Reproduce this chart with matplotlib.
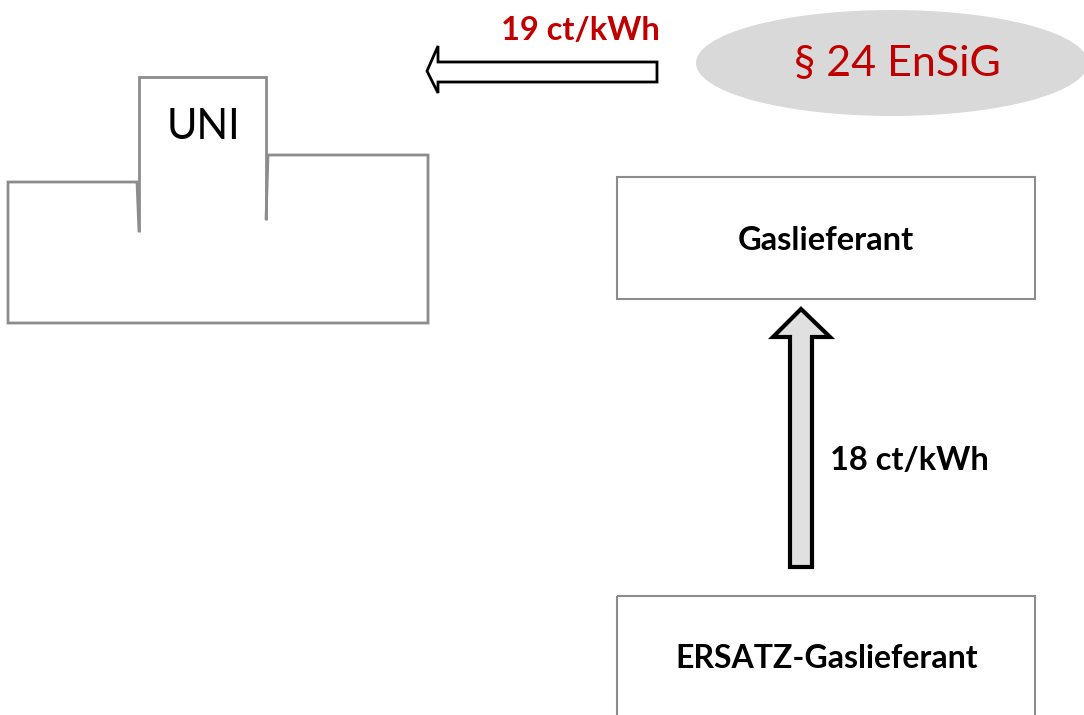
import matplotlib.pyplot as plt
from matplotlib.patches import Polygon, Rectangle, Ellipse

plt.rcParams['font.family'] = ['Lato', 'DejaVu Sans']

# diagram labels
labels = ["UNI", "Gaslieferant", "ERSATZ-Gaslieferant", "§ 24 EnSiG"]
prices = ["19 ct/kWh", "18 ct/kWh"]

RED = '#c00000'
GRAY = '#8c8c8c'

fig = plt.figure(figsize=(10.84, 7.15), dpi=100)
ax = fig.add_axes([0, 0, 1, 1])
ax.set_xlim(0, 1084)
ax.set_ylim(715, 0)
ax.axis('off')

# UNI building outline
outline = [(139, 232), (137, 182), (8, 182), (8, 323), (428, 323), (428, 155),
           (268, 155), (266, 220)]
ax.add_patch(Polygon(outline, closed=False, fill=False, ec=GRAY, lw=2))
tower = [(139, 232), (139, 77), (266, 77), (266, 220)]
ax.add_patch(Polygon(tower, closed=False, fill=False, ec=GRAY, lw=2))
ax.text(203, 127, labels[0], fontsize=30, ha='center', va='center')

# left arrow (19 ct/kWh)
left_arrow = [(657, 62), (438, 62), (438, 46), (427, 71), (438, 93),
              (438, 82), (657, 82)]
ax.add_patch(Polygon(left_arrow, closed=True, fc='white', ec='black', lw=2))
ax.text(580, 31, prices[0], fontsize=23.5, fontweight='bold', color=RED,
        ha='center', va='center')

# ellipse
ax.add_patch(Ellipse((892, 63), 392, 106, fc='#d9d9d9', ec='none'))
ax.text(897, 63, labels[3], fontsize=31, color=RED, ha='center', va='center')

# supplier boxes
ax.add_patch(Rectangle((617, 177), 418, 122, fill=False, ec=GRAY, lw=1.5))
ax.text(826, 240, labels[1], fontsize=23.5, fontweight='bold',
        ha='center', va='center')
ax.add_patch(Rectangle((617, 596), 418, 140, fill=False, ec=GRAY, lw=1.5,
                       clip_on=True))
ax.text(827, 659, labels[2], fontsize=23, fontweight='bold',
        ha='center', va='center')

# up arrow (18 ct/kWh)
up_arrow = [(790, 567), (790, 337), (773, 337), (801, 309), (830, 337),
            (812, 337), (812, 567)]
ax.add_patch(Polygon(up_arrow, closed=True, fc='#e0e0e0', ec='black', lw=3,
                     joinstyle='miter'))
ax.text(830, 460, prices[1], fontsize=23.5, fontweight='bold',
        ha='left', va='center')

fig.savefig('out.png', dpi=100)
